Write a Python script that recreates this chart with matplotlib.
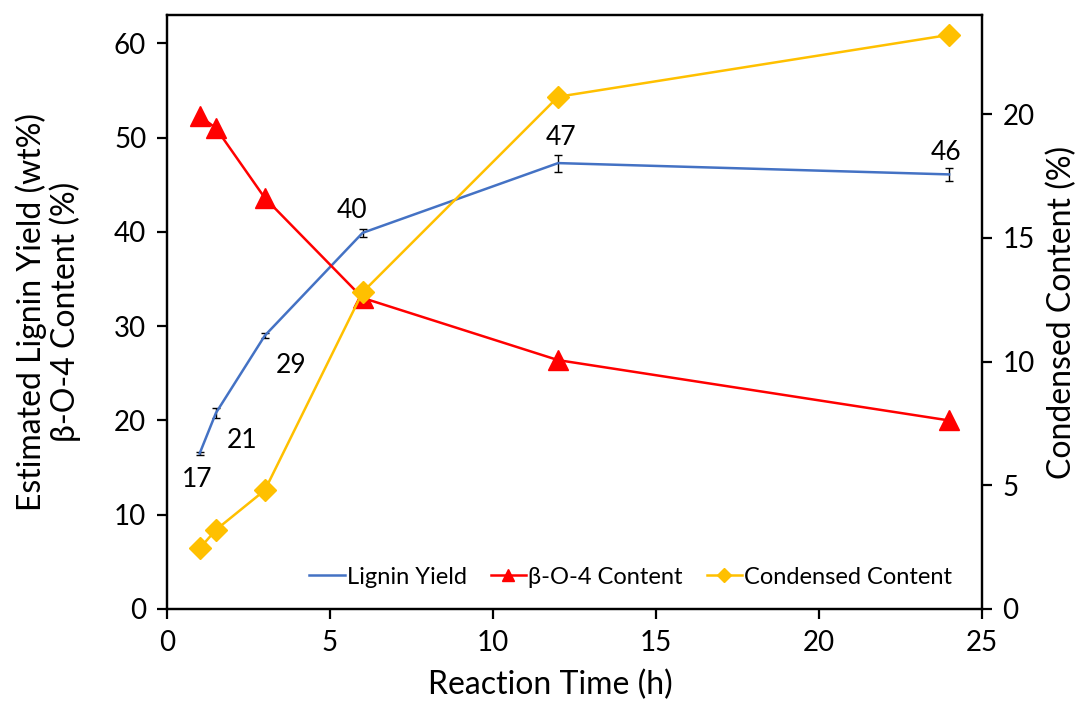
import matplotlib
matplotlib.use("Agg")
import matplotlib.pyplot as plt

plt.rcParams['font.family'] = ['Lato', 'DejaVu Sans']

time_h = [1, 1.5, 3, 6, 12, 24]
lignin_yield = [16.5, 20.8, 29.0, 39.9, 47.3, 46.1]
lignin_err = [0.2, 0.5, 0.3, 0.4, 0.9, 0.7]
lignin_labels = ["17", "21", "29", "40", "47", "46"]
beta_o4 = [52.3, 51.0, 43.6, 33.0, 26.4, 20.0]
condensed = [2.45, 3.2, 4.8, 12.8, 20.7, 23.2]

blue = "#4472C4"
red = "#FF0000"
gold = "#FFC000"

fig = plt.figure(figsize=(10.92, 7.02), dpi=100)
ax = fig.add_axes([0.153, 0.1325, 0.746, 0.846])
ax2 = ax.twinx()

ax.errorbar(time_h, lignin_yield, yerr=lignin_err, fmt='none',
            ecolor="black", elinewidth=1.0, capsize=3, capthick=1.0, zorder=3)
ax.plot(time_h, lignin_yield, color=blue, lw=1.8, label="Lignin Yield", zorder=3)
ax.plot(time_h, beta_o4, color=red, lw=1.8, marker="^", markersize=14,
        label="β-O-4 Content", zorder=4)
ax2.plot(time_h, condensed, color=gold, lw=1.8, marker="D", markersize=11,
         label="Condensed Content", zorder=5)

# label offsets in pixels (dx, dy) -> points
offsets_px = [(-3, -26), (26, -28), (26, -30), (-11, 22), (3, 26), (-3, 22)]
for x, y, t, (dx, dy) in zip(time_h, lignin_yield, lignin_labels, offsets_px):
    ax.annotate(t, (x, y), xytext=(dx * 0.72, dy * 0.72), textcoords="offset points",
                fontsize=19, ha='center', va='center')

ax.set_xlim(0, 25)
ax.set_ylim(0, 63)
ax2.set_ylim(0, 24)
ax.set_xticks([0, 5, 10, 15, 20, 25])
ax.set_yticks([0, 10, 20, 30, 40, 50, 60])
ax2.set_yticks([0, 5, 10, 15, 20])

for a in (ax, ax2):
    for s in a.spines.values():
        s.set_linewidth(1.6)
    a.tick_params(labelsize=20, width=1.6, length=7, direction='out', pad=8)

ax.set_xlabel("Reaction Time (h)", fontsize=23, va='center')
ax.xaxis.set_label_coords(0.47, -0.128)
ax.set_ylabel("Estimated Lignin Yield (wt%)\nβ-O-4 Content (%)", fontsize=23,
              linespacing=1.1, va='center')
ax.yaxis.set_label_coords(-0.146, 0.5)
ax2.set_ylabel("Condensed Content (%)", fontsize=23, va='center')
ax2.yaxis.set_label_coords(1.098, 0.5)

h1, l1 = ax.get_legend_handles_labels()
h2, l2 = ax2.get_legend_handles_labels()
leg = ax2.legend(h1 + h2, l1 + l2, loc='lower right', ncol=3, frameon=False,
                 fontsize=17, handlelength=1.5, handletextpad=0.1,
                 columnspacing=1.0, bbox_to_anchor=(0.99, 0.0), markerscale=0.65)

fig.savefig("out.png", dpi=100)
